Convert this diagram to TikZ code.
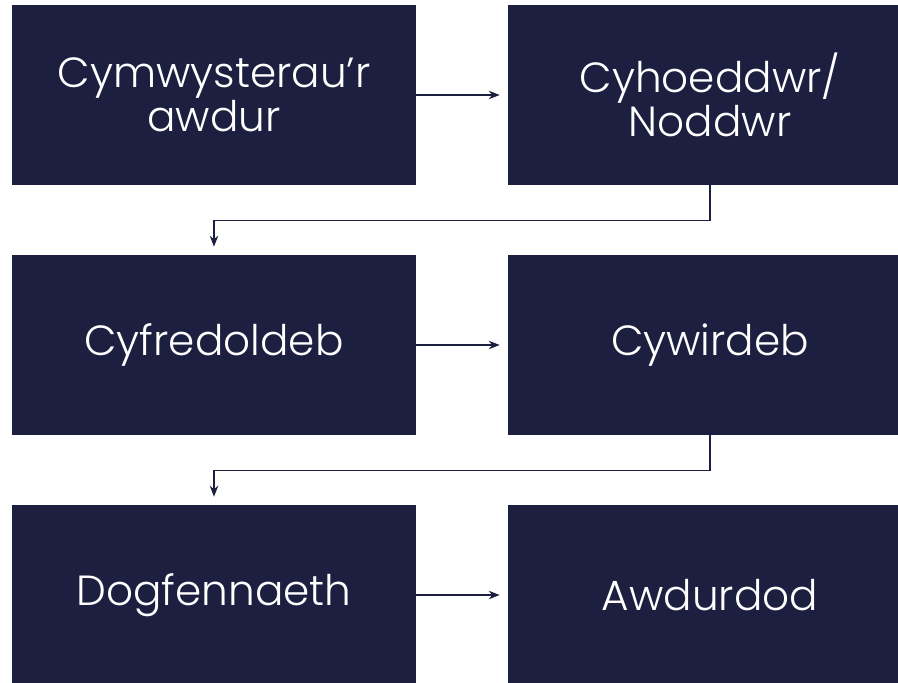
\documentclass[tikz,border=0pt]{standalone}
\usepackage{fontspec}
\setmainfont{Poppins}[UprightFont=* Light]
\usetikzlibrary{arrows.meta, positioning}
\definecolor{navy}{HTML}{1D1F40}

\begin{document}
\begin{tikzpicture}[
  x=0.02cm, y=-0.02cm,
  box/.style={rectangle, fill=navy, text=white, minimum width=8.08cm, minimum height=3.6cm,
    align=center, inner sep=0pt, font=\fontsize{24}{25}\selectfont},
  arrow/.style={-{Stealth[length=2.2mm, width=1.7mm]}, draw=navy, line width=0.7pt, shorten >=0.16cm}
]
\useasboundingbox (0,0) rectangle (898,682);
\clip (0,0) rectangle (898,682);

% Left column
\node[box] (auth) at (214,95) {Cymwysterau’r\\awdur};
\node[box] (curr) at (214,345) {Cyfredoldeb};
\node[box] (docs) at (214,595) {Dogfennaeth};

% Right column
\node[box] (pub) at (710,95) {Cyhoeddwr/\\Noddwr};
\node[box] (acc) at (710,345) {Cywirdeb};
\node[box] (autho) at (710,595) {Awdurdod};

% Row links
\draw[arrow] (auth) -- (pub);
\draw[arrow] (curr) -- (acc);
\draw[arrow] (docs) -- (autho);

% Elbows down to next row
\draw[arrow] (pub.south) -- ++(0,35) -| (curr.north);
\draw[arrow] (acc.south) -- ++(0,35) -| (docs.north);

\end{tikzpicture}
\end{document}
